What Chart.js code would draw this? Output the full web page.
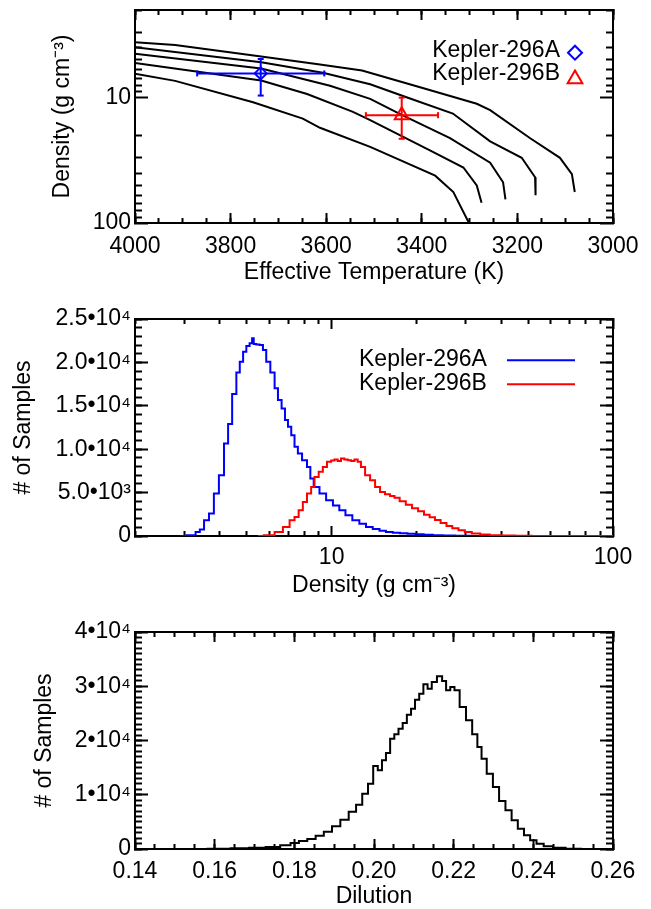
<!DOCTYPE html>
<html>
<head>
<meta charset="utf-8">
<script src="https://cdn.jsdelivr.net/npm/chart.js@4.4.1/dist/chart.umd.min.js"></script>
<style>
    html, body { margin: 0; padding: 0; background: #fff; }
    #wrap { position: relative; width: 651px; height: 909px; }
    canvas { position: absolute; left: 0; }
</style>
</head>
<body>
<div id="wrap">
    <canvas id="teff-chart" width="651" height="300" style="top:0;width:651px;height:300px"></canvas>
    <canvas id="density-chart" width="651" height="310" style="top:300px;width:651px;height:310px"></canvas>
    <canvas id="dilution-chart" width="651" height="299" style="top:610px;width:651px;height:299px"></canvas>
</div>
<script>
const FONT = "'Liberation Sans', Arial, Helvetica, sans-serif";
const FONT_SIZE = 23;

// ---- top panel: density vs effective temperature ----
const teffTicks = [4000, 3800, 3600, 3400, 3200, 3000];
const teffLabels = ['4000', '3800', '3600', '3400', '3200', '3000'];
const rhoTicks = [10, 100];
const rhoLabels = ['10', '100'];
const rhoMinorTicks = [2, 3, 4, 5, 6, 7, 8, 9, 20, 30, 40, 50, 60, 70, 80, 90];

const trackATeff = [4000, 3916, 3736, 3613, 3525, 3400, 3285, 3257, 3174, 3111, 3086, 3080];
const trackARho = [3.62, 3.80, 4.69, 5.45, 6.07, 8.34, 11.2, 12.6, 21.0, 30.2, 40.7, 56.6];
const trackBTeff = [4000, 3736, 3607, 3508, 3432, 3335, 3257, 3191, 3163, 3162];
const trackBRho = [3.97, 5.22, 6.33, 7.82, 9.93, 13.4, 22.3, 30.2, 43.2, 60.1];
const trackCTeff = [4000, 3736, 3592, 3508, 3441, 3341, 3257, 3230, 3225];
const trackCRho = [4.47, 5.86, 8.04, 10.24, 13.8, 21.0, 33.0, 47.3, 64.9];
const trackDTeff = [4000, 3736, 3640, 3544, 3508, 3383, 3313, 3285, 3275];
const trackDRho = [5.29, 7.31, 9.36, 13.0, 15.1, 26.3, 36.1, 50.2, 69.0];
const trackETeff = [4000, 3916, 3753, 3649, 3613, 3508, 3372, 3334, 3303, 3300];
const trackERho = [6.45, 7.35, 10.9, 14.7, 17.4, 24.7, 41.9, 56.6, 97.2, 100];

const starNames = ['Kepler-296A', 'Kepler-296B'];
const starTeff = [3737, 3442];
const starTeffLow = [3604, 3366];
const starTeffHigh = [3870, 3517];
const starRho = [6.41, 13.8];
const starRhoLow = [4.92, 10.0];
const starRhoHigh = [9.63, 21.3];

// ---- middle panel: density histograms ----
const densTicks = [10, 100];
const densLabels = ['10', '100'];
const countTicks = [0, 5000, 10000, 15000, 20000, 25000];
const countLabels = ['0', '5.0\u202210\u00B3', '1.0\u202210\u2074', '1.5\u202210\u2074', '2.0\u202210\u2074', '2.5\u202210\u2074'];

const histADensity = [2.89, 3.22, 3.35, 3.45, 3.59, 3.74, 3.89, 4.06, 4.23, 4.34, 4.52, 4.65, 4.78, 4.91, 5.04, 5.18, 5.25, 5.32, 5.47, 5.62, 5.78, 5.93, 6.18, 6.36, 6.53, 6.75, 6.90, 7.09, 7.28, 7.48, 7.69, 8.01, 8.34, 8.46, 8.81, 9.30, 9.82, 10.4, 10.9, 11.5, 12.2, 12.9, 13.6, 14.4, 15.2, 16.0, 17.0, 18.0, 19.2, 20.5, 22.0, 23.8, 26.0, 29.0, 33.0, 38.0];
const histACount = [0, 80, 460, 740, 1810, 2580, 4890, 7000, 10660, 12890, 16350, 18850, 20080, 21230, 21890, 22200, 22780, 22120, 22050, 22000, 21430, 20080, 18850, 17010, 15660, 14700, 13350, 12580, 11620, 10270, 9510, 8740, 7960, 6620, 5650, 4890, 4120, 3500, 2970, 2400, 1810, 1400, 1040, 800, 600, 460, 380, 320, 260, 200, 150, 100, 60, 30, 10, 0];
const histBDensity = [5.47, 6.02, 6.53, 6.90, 7.28, 7.48, 7.79, 8.01, 8.34, 8.57, 8.81, 9.18, 9.43, 9.82, 10.1, 10.37, 10.65, 10.94, 11.25, 11.56, 11.9, 12.21, 12.54, 12.88, 13.42, 13.98, 14.56, 15.16, 15.8, 16.46, 17.0, 17.9, 18.8, 19.8, 20.8, 21.8, 22.8, 23.8, 25.0, 26.2, 27.5, 29.0, 30.5, 32.5, 35.0, 38.0, 42.0, 48.0, 55.0, 100];
const histBCount = [0, 80, 460, 1040, 1810, 2190, 2970, 3920, 4890, 5650, 6810, 7390, 7960, 8540, 8700, 8810, 8650, 8930, 8800, 8740, 8650, 8810, 8540, 7960, 7000, 6430, 5650, 5080, 4800, 4600, 4400, 4000, 3600, 3200, 2850, 2450, 2150, 1850, 1500, 1150, 880, 650, 450, 300, 180, 100, 50, 20, 0, 0];

// ---- bottom panel: dilution histogram ----
const dilutionTicks = [0.14, 0.16, 0.18, 0.20, 0.22, 0.24, 0.26];
const dilutionLabels = ['0.14', '0.16', '0.18', '0.20', '0.22', '0.24', '0.26'];
const dilCountTicks = [0, 10000, 20000, 30000, 40000];
const dilCountLabels = ['0', '1\u202210\u2074', '2\u202210\u2074', '3\u202210\u2074', '4\u202210\u2074'];

const dilutionBins = [0.155, 0.1614, 0.1666, 0.1707, 0.1749, 0.1780, 0.1801, 0.1822, 0.1843, 0.1864, 0.1884, 0.1905, 0.1926, 0.1947, 0.1963, 0.1978, 0.1992, 0.2004, 0.2015, 0.2025, 0.2035, 0.2046, 0.2056, 0.2067, 0.2077, 0.2088, 0.2098, 0.2108, 0.2119, 0.2129, 0.2140, 0.2150, 0.2166, 0.2176, 0.2186, 0.2197, 0.2207, 0.2223, 0.2239, 0.2254, 0.2265, 0.2275, 0.2291, 0.2306, 0.2322, 0.2338, 0.2353, 0.2369, 0.2384, 0.2400, 0.2416, 0.2436, 0.2463, 0.2499, 0.2540];
const dilutionCount = [0, 60, 120, 250, 370, 680, 1110, 1470, 1840, 2460, 3190, 4180, 5410, 6880, 8170, 10200, 12040, 15300, 14500, 16340, 17700, 20340, 21140, 22180, 23220, 24760, 25870, 27530, 28630, 30350, 29550, 30780, 31830, 30970, 29250, 29860, 29250, 26170, 23720, 21140, 18800, 16650, 13890, 11430, 8850, 7130, 5280, 3750, 2520, 1600, 980, 490, 250, 60, 0];

function pts(xs, ys) {
    return xs.map((x, i) => ({ x, y: ys[i] }));
}

function steps(from, to, step) {
    const out = [];
    for (let v = from; v <= to + step / 2; v += step) out.push(Math.round(v * 10000) / 10000);
    return out;
}

// one axis of the frame; ticks point inward like the IDL original
function frameAxis(axis, position, range, values, labels, tickLen, size, weight, extra) {
    return Object.assign({
        axis,
        type: range.type || 'linear',
        position,
        min: range.min,
        max: range.max,
        reverse: !!range.reverse,
        bounds: 'data',
        weight,
        afterBuildTicks: s => { s.ticks = values.map(v => ({ value: v })); },
        afterFit: s => {
            if (s.isHorizontal()) s.height = size; else s.width = size;
            s.paddingLeft = s.paddingRight = s.paddingTop = s.paddingBottom = 0;
        },
        ticks: {
            display: !!labels,
            autoSkip: false,
            maxRotation: 0,
            minRotation: 0,
            padding: range.labelPad || 0,
            color: '#000',
            font: { family: FONT, size: FONT_SIZE },
            callback: (v, i) => (labels ? labels[i] : '')
        },
        grid: { drawOnChartArea: false, drawTicks: true, tickLength: -tickLen, tickWidth: 2, tickColor: '#000' },
        border: { display: true, color: '#000', width: 2 },
        title: { display: false }
    }, extra || {});
}

function frameScales(xr, yr) {
    const xTitle = {
        display: true, text: xr.title, color: '#000',
        font: { family: FONT, size: FONT_SIZE }, padding: { top: 0, bottom: xr.titlePad }
    };
    const yTitle = {
        display: true, text: yr.title, color: '#000',
        font: { family: FONT, size: FONT_SIZE }, padding: { top: yr.titlePad, bottom: 0 }
    };
    return {
        x: frameAxis('x', 'bottom', xr, xr.major, xr.labels, 10, xr.size, 1, { title: xTitle }),
        xMinor: frameAxis('x', 'bottom', xr, xr.minor, null, 5, 0, 0),
        xTop: frameAxis('x', 'top', xr, xr.major, null, 10, 0, 1),
        xTopMinor: frameAxis('x', 'top', xr, xr.minor, null, 5, 0, 0),
        y: frameAxis('y', 'left', yr, yr.major, yr.labels, 13, 135, 1, { title: yTitle }),
        yMinor: frameAxis('y', 'left', yr, yr.minor, null, 7, 0, 0),
        yRight: frameAxis('y', 'right', yr, yr.major, null, 13, 0, 1),
        yRightMinor: frameAxis('y', 'right', yr, yr.minor, null, 7, 0, 0)
    };
}

function drawMarker(ctx, style, x, y, r) {
    ctx.beginPath();
    if (style === 'rectRot') {
        ctx.moveTo(x, y - r); ctx.lineTo(x + r, y); ctx.lineTo(x, y + r); ctx.lineTo(x - r, y);
    } else {
        const h = Math.sqrt(3) / 2 * r;
        ctx.moveTo(x, y - r); ctx.lineTo(x + h, y + r / 2); ctx.lineTo(x - h, y + r / 2);
    }
    ctx.closePath();
    ctx.stroke();
}

const cornerLegend = {
    id: 'cornerLegend',
    afterDatasetsDraw(chart, args, opts) {
        if (!opts.items) return;
        const { ctx, chartArea } = chart;
        ctx.save();
        ctx.font = `${FONT_SIZE}px ${FONT}`;
        ctx.textBaseline = 'middle';
        opts.items.forEach((item, i) => {
            const y = chartArea.top + opts.top + i * opts.rowGap;
            ctx.fillStyle = '#000';
            ctx.textAlign = opts.textAlign;
            ctx.fillText(item.text, chartArea.left + opts.textX, y);
            ctx.strokeStyle = item.color;
            ctx.lineWidth = 2;
            if (item.marker === 'line') {
                ctx.beginPath();
                ctx.moveTo(chartArea.left + opts.lineFrom, y + 1);
                ctx.lineTo(chartArea.left + opts.lineTo, y + 1);
                ctx.stroke();
            } else {
                drawMarker(ctx, item.marker, chartArea.left + opts.markerX, y + item.dy, item.r);
            }
        });
        ctx.restore();
    }
};

function baseOptions(padTop, scales, legend) {
    return {
        responsive: false,
        animation: false,
        events: [],
        devicePixelRatio: 1,
        layout: { padding: { top: padTop, right: 38, left: 0, bottom: 0 } },
        scales,
        plugins: {
            legend: { display: false },
            tooltip: { enabled: false },
            cornerLegend: legend || {}
        }
    };
}

function trackDataset(xs, ys) {
    return {
        data: pts(xs, ys), showLine: true, borderColor: '#000', borderWidth: 2,
        pointRadius: 0, tension: 0, fill: false
    };
}

function errorDataset(points, color, rotation) {
    return {
        data: points, showLine: true, borderColor: color, borderWidth: 2,
        pointStyle: 'line', pointRadius: 3, pointRotation: rotation,
        pointBorderColor: color, pointBorderWidth: 2
    };
}

function renderTeffChart() {
    const colors = ['#0000ff', '#ff0000'];
    const shapes = ['rectRot', 'triangle'];
    const markers = starNames.map((name, i) => ({
        data: [{ x: starTeff[i], y: starRho[i] }],
        pointStyle: shapes[i], pointRadius: i === 0 ? 6 : 8,
        pointBorderColor: colors[i], pointBackgroundColor: 'rgba(0,0,0,0)', pointBorderWidth: 2
    }));
    const bars = [];
    starNames.forEach((name, i) => {
        bars.push(errorDataset([{ x: starTeffLow[i], y: starRho[i] }, { x: starTeffHigh[i], y: starRho[i] }], colors[i], 90));
        bars.push(errorDataset([{ x: starTeff[i], y: starRhoLow[i] }, { x: starTeff[i], y: starRhoHigh[i] }], colors[i], 0));
    });
    const tracks = [
        trackDataset(trackATeff, trackARho),
        trackDataset(trackBTeff, trackBRho),
        trackDataset(trackCTeff, trackCRho),
        trackDataset(trackDTeff, trackDRho),
        trackDataset(trackETeff, trackERho)
    ];

    const scales = frameScales(
        { min: 3000, max: 4000, reverse: true, major: teffTicks, labels: teffLabels, minor: steps(3000, 4000, 50),
          size: 77, labelPad: 20, title: 'Effective Temperature (K)', titlePad: 14 },
        { type: 'logarithmic', min: 2, max: 100, reverse: true, major: rhoTicks, labels: rhoLabels, minor: rhoMinorTicks,
          labelPad: 17, title: 'Density (g cm\u207B\u00B3)', titlePad: 49 }
    );

    new Chart(document.getElementById('teff-chart'), {
        type: 'scatter',
        data: { datasets: [...markers, ...bars, ...tracks] },
        options: baseOptions(6, scales, {
            items: [
                { text: starNames[0], color: colors[0], marker: 'rectRot', r: 7, dy: 2 },
                { text: starNames[1], color: colors[1], marker: 'triangle', r: 8.5, dy: 5 }
            ],
            top: 40.7, rowGap: 23.3, textAlign: 'right', textX: 425, markerX: 440
        }),
        plugins: [cornerLegend]
    });
}

function renderDensityChart() {
    const scales = frameScales(
        { type: 'logarithmic', min: 2, max: 100, major: densTicks, labels: densLabels, minor: rhoMinorTicks,
          size: 74, labelPad: 18, title: 'Density (g cm\u207B\u00B3)', titlePad: 11 },
        { min: 0, max: 25000, major: countTicks, labels: countLabels, minor: steps(0, 25000, 1000),
          labelPad: 17, title: '# of Samples', titlePad: 10 }
    );
    new Chart(document.getElementById('density-chart'), {
        type: 'scatter',
        data: {
            datasets: [
                { data: pts(histBDensity, histBCount), showLine: true, stepped: 'middle', borderColor: '#ff0000', borderWidth: 2, pointRadius: 0 },
                { data: pts(histADensity, histACount), showLine: true, stepped: 'middle', borderColor: '#0000ff', borderWidth: 2, pointRadius: 0 }
            ]
        },
        options: baseOptions(19, scales, {
            items: [
                { text: starNames[0], color: '#0000ff', marker: 'line' },
                { text: starNames[1], color: '#ff0000', marker: 'line' }
            ],
            top: 40.3, rowGap: 24, textAlign: 'left', textX: 224, lineFrom: 372, lineTo: 440
        }),
        plugins: [cornerLegend]
    });
}

function renderDilutionChart() {
    const scales = frameScales(
        { min: 0.14, max: 0.26, major: dilutionTicks, labels: dilutionLabels, minor: steps(0.14, 0.26, 0.005),
          size: 60, labelPad: 19, title: 'Dilution', titlePad: -1 },
        { min: 0, max: 40000, major: dilCountTicks, labels: dilCountLabels, minor: steps(0, 40000, 1000),
          labelPad: 17, title: '# of Samples', titlePad: 31 }
    );
    new Chart(document.getElementById('dilution-chart'), {
        type: 'scatter',
        data: {
            datasets: [
                { data: pts(dilutionBins, dilutionCount), showLine: true, stepped: 'middle', borderColor: '#000', borderWidth: 2, pointRadius: 0 }
            ]
        },
        options: baseOptions(22, scales),
        plugins: [cornerLegend]
    });
}

window.addEventListener('DOMContentLoaded', () => {
    renderTeffChart();
    renderDensityChart();
    renderDilutionChart();
});
</script>
</body>
</html>
